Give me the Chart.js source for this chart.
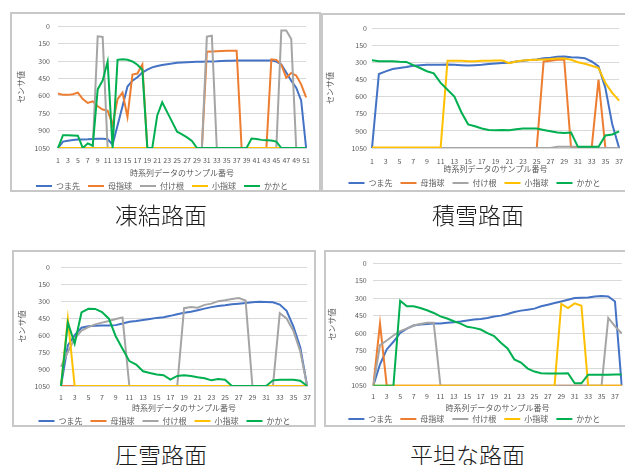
<!DOCTYPE html>
<html><head><meta charset="utf-8">
<script src="https://cdn.jsdelivr.net/npm/chart.js@4.4.0/dist/chart.umd.min.js"></script>
<style>
html,body{margin:0;padding:0;background:#fff;width:625px;height:465px;overflow:hidden;position:relative;}
.box{position:absolute;border:2px solid #c8c8c8;box-sizing:border-box;}
canvas{position:absolute;}
.cap{position:absolute;font-family:"Noto Sans CJK JP";font-size:23px;line-height:23px;color:#1a1a1a;white-space:nowrap;font-weight:300;}
</style></head>
<body>
<div class="box" style="left:10px;top:12px;width:311px;height:180px;"></div>
<div class="box" style="left:321px;top:13px;width:320px;height:179px;"></div>
<div class="box" style="left:12px;top:250px;width:304px;height:177px;"></div>
<div class="box" style="left:324px;top:250px;width:320px;height:177px;"></div>
<canvas id="c1" width="306" height="186" style="left:12px;top:14px;"></canvas>
<canvas id="c2" width="308" height="182" style="left:324px;top:15px;"></canvas>
<canvas id="c3" width="304" height="183" style="left:14px;top:252px;"></canvas>
<canvas id="c4" width="304" height="181" style="left:326px;top:252px;"></canvas>
<div class="cap" style="left:115px;top:203px;">凍結路面</div>
<div class="cap" style="left:432px;top:203px;">積雪路面</div>
<div class="cap" style="left:115px;top:443px;">圧雪路面</div>
<div class="cap" style="left:410px;top:443px;">平坦な路面</div>
<script>
// ---- data ----
const seriesNames = ['つま先', '母指球', '付け根', '小指球', 'かかと'];
const seriesColors = ['#4472C4', '#ED7D31', '#A5A5A5', '#FFC000', '#00B050'];
const yTickValues = [0, 150, 300, 450, 600, 750, 900, 1050];
const xTitle = '時系列データのサンプル番号';
const yTitle = 'センサ値';

// 凍結路面
const catsFrozen = [1,2,3,4,5,6,7,8,9,10,11,12,13,14,15,16,17,18,19,20,21,22,23,24,25,26,27,28,29,30,31,32,33,34,35,36,37,38,39,40,41,42,43,44,45,46,47,48,49,50,51];
const toeFrozen = [1050,995,988,982,977,977,975,972,970,970,975,1020,855,690,520,470,440,400,375,355,343,335,328,322,315,312,310,308,307,306,305,305,303,300,298,297,296,296,295,295,295,295,295,296,305,330,400,470,530,640,1050];
const ballFrozen = [580,592,592,586,572,628,662,648,690,718,727,850,628,572,783,417,408,330,1050,1050,1050,1050,1050,1050,1050,1050,1050,1050,1050,1050,220,218,216,214,212,212,212,1050,1050,1050,1050,1050,1050,285,290,332,445,403,425,501,614];
const baseFrozen = [1050,1050,1050,1050,1050,1050,1050,1050,87,93,1050,1050,1050,1050,1050,1050,1050,1050,1050,1050,1050,1050,1050,1050,1050,1050,1050,1050,1050,1050,90,82,1050,1050,1050,1050,1050,1050,1050,1050,1050,1050,1050,1050,1050,38,38,110,1050,1050,1050];
const littleFrozen = [1050,1050,1050,1050,1050,1050,1050,1050,1050,1050,1050,1050,1050,1050,1050,1050,1050,1050,1050,1050,1050,1050,1050,1050,1050,1050,1050,1050,1050,1050,1050,1050,1050,1050,1050,1050,1050,1050,1050,1050,1050,1050,1050,1050,1050,1050,1050,1050,1050,1050,1050];
const heelFrozen = [1050,940,940,942,944,1050,1010,1030,545,468,305,1050,290,285,290,304,332,375,1050,1050,769,656,741,825,910,932,958,990,1050,1050,1050,1050,1050,1050,1050,1050,1050,1050,1050,968,972,980,983,986,995,1050,1050,1050,1050,1050,1050];

// 積雪路面
const catsSnow = [1,2,3,4,5,6,7,8,9,10,11,12,13,14,15,16,17,18,19,20,21,22,23,24,25,26,27,28,29,30,31,32,33,34,35,36,37];
const toeSnow = [1050,403,380,359,351,342,330,325,322,322,322,320,322,325,328,325,322,316,310,307,304,293,287,281,275,264,261,252,249,255,258,264,293,336,525,843,1050];
const ballSnow = [1050,1050,1050,1050,1050,1050,1050,1050,1050,1050,1050,1050,1050,1050,1050,1050,1050,1050,1050,1050,1050,1050,1050,1050,1050,293,287,278,278,1050,1050,1050,1050,452,1050,1050,1050];
const baseSnow = [1050,1050,1050,1050,1050,1050,1050,1050,1050,1050,1050,1050,1050,1050,1050,1050,1050,1050,1050,1050,1050,1050,1050,1050,1050,1050,1050,1040,1040,1040,1040,1050,1050,1050,1050,1050,1050];
const littleSnow = [1045,1045,1045,1045,1045,1045,1045,1045,1045,1045,1045,287,287,287,290,290,287,287,284,284,307,293,284,281,278,275,272,267,267,278,299,313,330,351,481,568,635];
const heelSnow = [283,290,290,291,296,297,325,350,378,397,480,540,600,735,843,860,880,892,895,893,895,886,880,880,880,892,904,915,918,915,1040,1040,1040,1040,940,932,905];

// 圧雪路面
const catsPacked = [1,2,3,4,5,6,7,8,9,10,11,12,13,14,15,16,17,18,19,20,21,22,23,24,25,26,27,28,29,30,31,32,33,34,35,36,37];
const toePacked = [1050,690,600,535,522,518,516,515,512,498,482,476,467,458,448,442,430,416,403,394,380,366,353,342,336,328,322,316,309,306,307,310,330,385,525,710,1050];
const ballPacked = [1050,1050,1050,1050,1050,1050,1050,1050,1050,1050,1050,1050,1050,1050,1050,1050,1050,1050,1050,1050,1050,1050,1050,1050,1050,1050,1050,1050,1050,1050,1050,1050,1050,1050,1050,1050,1050];
const basePacked = [880,750,630,560,530,505,490,475,458,445,1050,1050,1050,1050,1050,1050,1050,1050,362,352,358,333,322,300,292,281,273,295,1050,1050,1050,1050,406,453,564,744,1050];
const littlePacked = [1050,455,1050,1050,1050,1050,1050,1050,1050,1050,1050,1050,1050,1050,1050,1050,1050,1050,1050,1050,1050,1050,1050,1050,1050,1050,1050,1050,1050,1050,1050,1050,1050,1050,1050,1050,1050];
const heelPacked = [1050,489,675,400,368,369,397,455,610,720,830,860,920,935,948,955,994,961,956,961,972,981,1000,989,994,1050,1050,1050,1050,1050,1050,1000,994,994,994,1003,1050];

// 平坦な路面
const catsFlat = [1,2,3,4,5,6,7,8,9,10,11,12,13,14,15,16,17,18,19,20,21,22,23,24,25,26,27,28,29,30,31,32,33,34,35,36,37,38];
const toeFlat = [1050,866,739,673,597,560,534,526,520,517,517,511,506,500,491,483,477,469,457,449,435,418,406,398,389,369,355,341,327,313,298,295,293,284,281,284,327,1050];
const ballFlat = [1050,517,1050,1050,1050,1050,1050,1050,1050,1050,1050,1050,1050,1050,1050,1050,1050,1050,1050,1050,1050,1050,1050,1050,1050,1050,1050,1050,1050,1050,1050,1050,1050,1050,1050,1050,1050,1050];
const baseFlat = [1050,702,662,619,582,560,534,520,511,511,1050,1050,1050,1050,1050,1050,1050,1050,1050,1050,1050,1050,1050,1050,1050,1050,1050,1050,1050,1050,1050,1050,1050,1050,1050,469,540,602];
const littleFlat = [1050,1050,1050,1050,1050,1050,1050,1050,1050,1050,1050,1050,1050,1050,1050,1050,1050,1050,1050,1050,1050,1050,1050,1050,1050,1050,1050,1050,349,384,344,364,1050,1050,1050,1050,1050,1050];
const heelFlat = [1050,1050,1050,1050,321,369,369,384,403,426,455,474,497,517,545,554,568,599,625,682,730,824,852,903,929,943,946,946,946,943,1030,1030,955,955,955,955,953,953];

// ---- drawing ----
Chart.defaults.font.family = '"Noto Sans CJK JP", sans-serif';
Chart.defaults.color = '#595959';

function makeChart(id, cats, series, L) {
  const datasets = series.map((vals, i) => ({
    label: seriesNames[i],
    data: vals,
    borderColor: seriesColors[i],
    backgroundColor: seriesColors[i],
    borderWidth: 2,
    pointRadius: 0,
    tension: 0,
    fill: false,
    order: 5 - i
  }));
  return new Chart(document.getElementById(id), {
    type: 'line',
    data: { labels: cats, datasets },
    options: {
      responsive: false,
      animation: false,
      devicePixelRatio: 1,
      layout: { padding: { top: L.padTop, left: L.padLeft, right: L.padRight, bottom: 0 } },
      plugins: {
        tooltip: { enabled: false },
        legend: {
          position: 'bottom',
          labels: {
            font: { size: 8 },
            color: '#595959',
            usePointStyle: true,
            pointStyle: 'line',
            pointStyleWidth: 16,
            padding: 8,
            sort: (a, b) => a.datasetIndex - b.datasetIndex
          }
        }
      },
      scales: {
        x: {
          offset: false,
          grid: { display: false, drawTicks: false },
          border: { display: true, color: '#D9D9D9', width: 1 },
          ticks: {
            autoSkip: false, maxRotation: 0, minRotation: 0,
            font: { size: 7 }, color: '#595959', padding: L.xTickPad,
            callback: (v, i) => (i % 2 === 0 ? String(cats[i]) : '')
          },
          title: { display: true, text: xTitle, font: { size: 8 }, color: '#595959', padding: { top: 0, bottom: L.xTitlePadB } },
          afterFit: (s) => { s.height = L.xHeight; }
        },
        y: {
          reverse: true, min: 0, max: 1050,
          afterBuildTicks: (s) => { s.ticks = yTickValues.map(v => ({ value: v })); },
          grid: { color: '#D9D9D9', lineWidth: 1, drawTicks: false },
          border: { display: false },
          ticks: { font: { size: 7 }, color: '#595959', padding: L.yTickPad, callback: (v) => String(v) },
          title: { display: true, text: yTitle, font: { size: 8 }, color: '#595959', padding: { top: 0, bottom: 0 } },
          afterFit: (s) => { s.width = L.yWidth; }
        }
      }
    }
  });
}

makeChart('c1', catsFrozen, [toeFrozen, ballFrozen, baseFrozen, littleFrozen, heelFrozen],
  { padTop: 10, padLeft: 4, padRight: 10, yWidth: 42, yTickPad: 8, xHeight: 26, xTickPad: 8, xTitlePadB: -3.8 });
makeChart('c2', catsSnow, [toeSnow, ballSnow, baseSnow, littleSnow, heelSnow],
  { padTop: 13, padLeft: 1, padRight: 8, yWidth: 47, yTickPad: 5, xHeight: 23, xTickPad: 9, xTitlePadB: -2.8 });
makeChart('c3', catsPacked, [toePacked, ballPacked, basePacked, littlePacked, heelPacked],
  { padTop: 7, padLeft: 3, padRight: 6, yWidth: 44, yTickPad: 11, xHeight: 23, xTickPad: 7, xTitlePadB: -4.1 });
makeChart('c4', catsFlat, [toeFlat, ballFlat, baseFlat, littleFlat, heelFlat],
  { padTop: 11.3, padLeft: 1, padRight: 8.3, yWidth: 46.3, yTickPad: 6.6, xHeight: 21.3, xTickPad: 6.4, xTitlePadB: -5.5 });
</script>
</body></html>
